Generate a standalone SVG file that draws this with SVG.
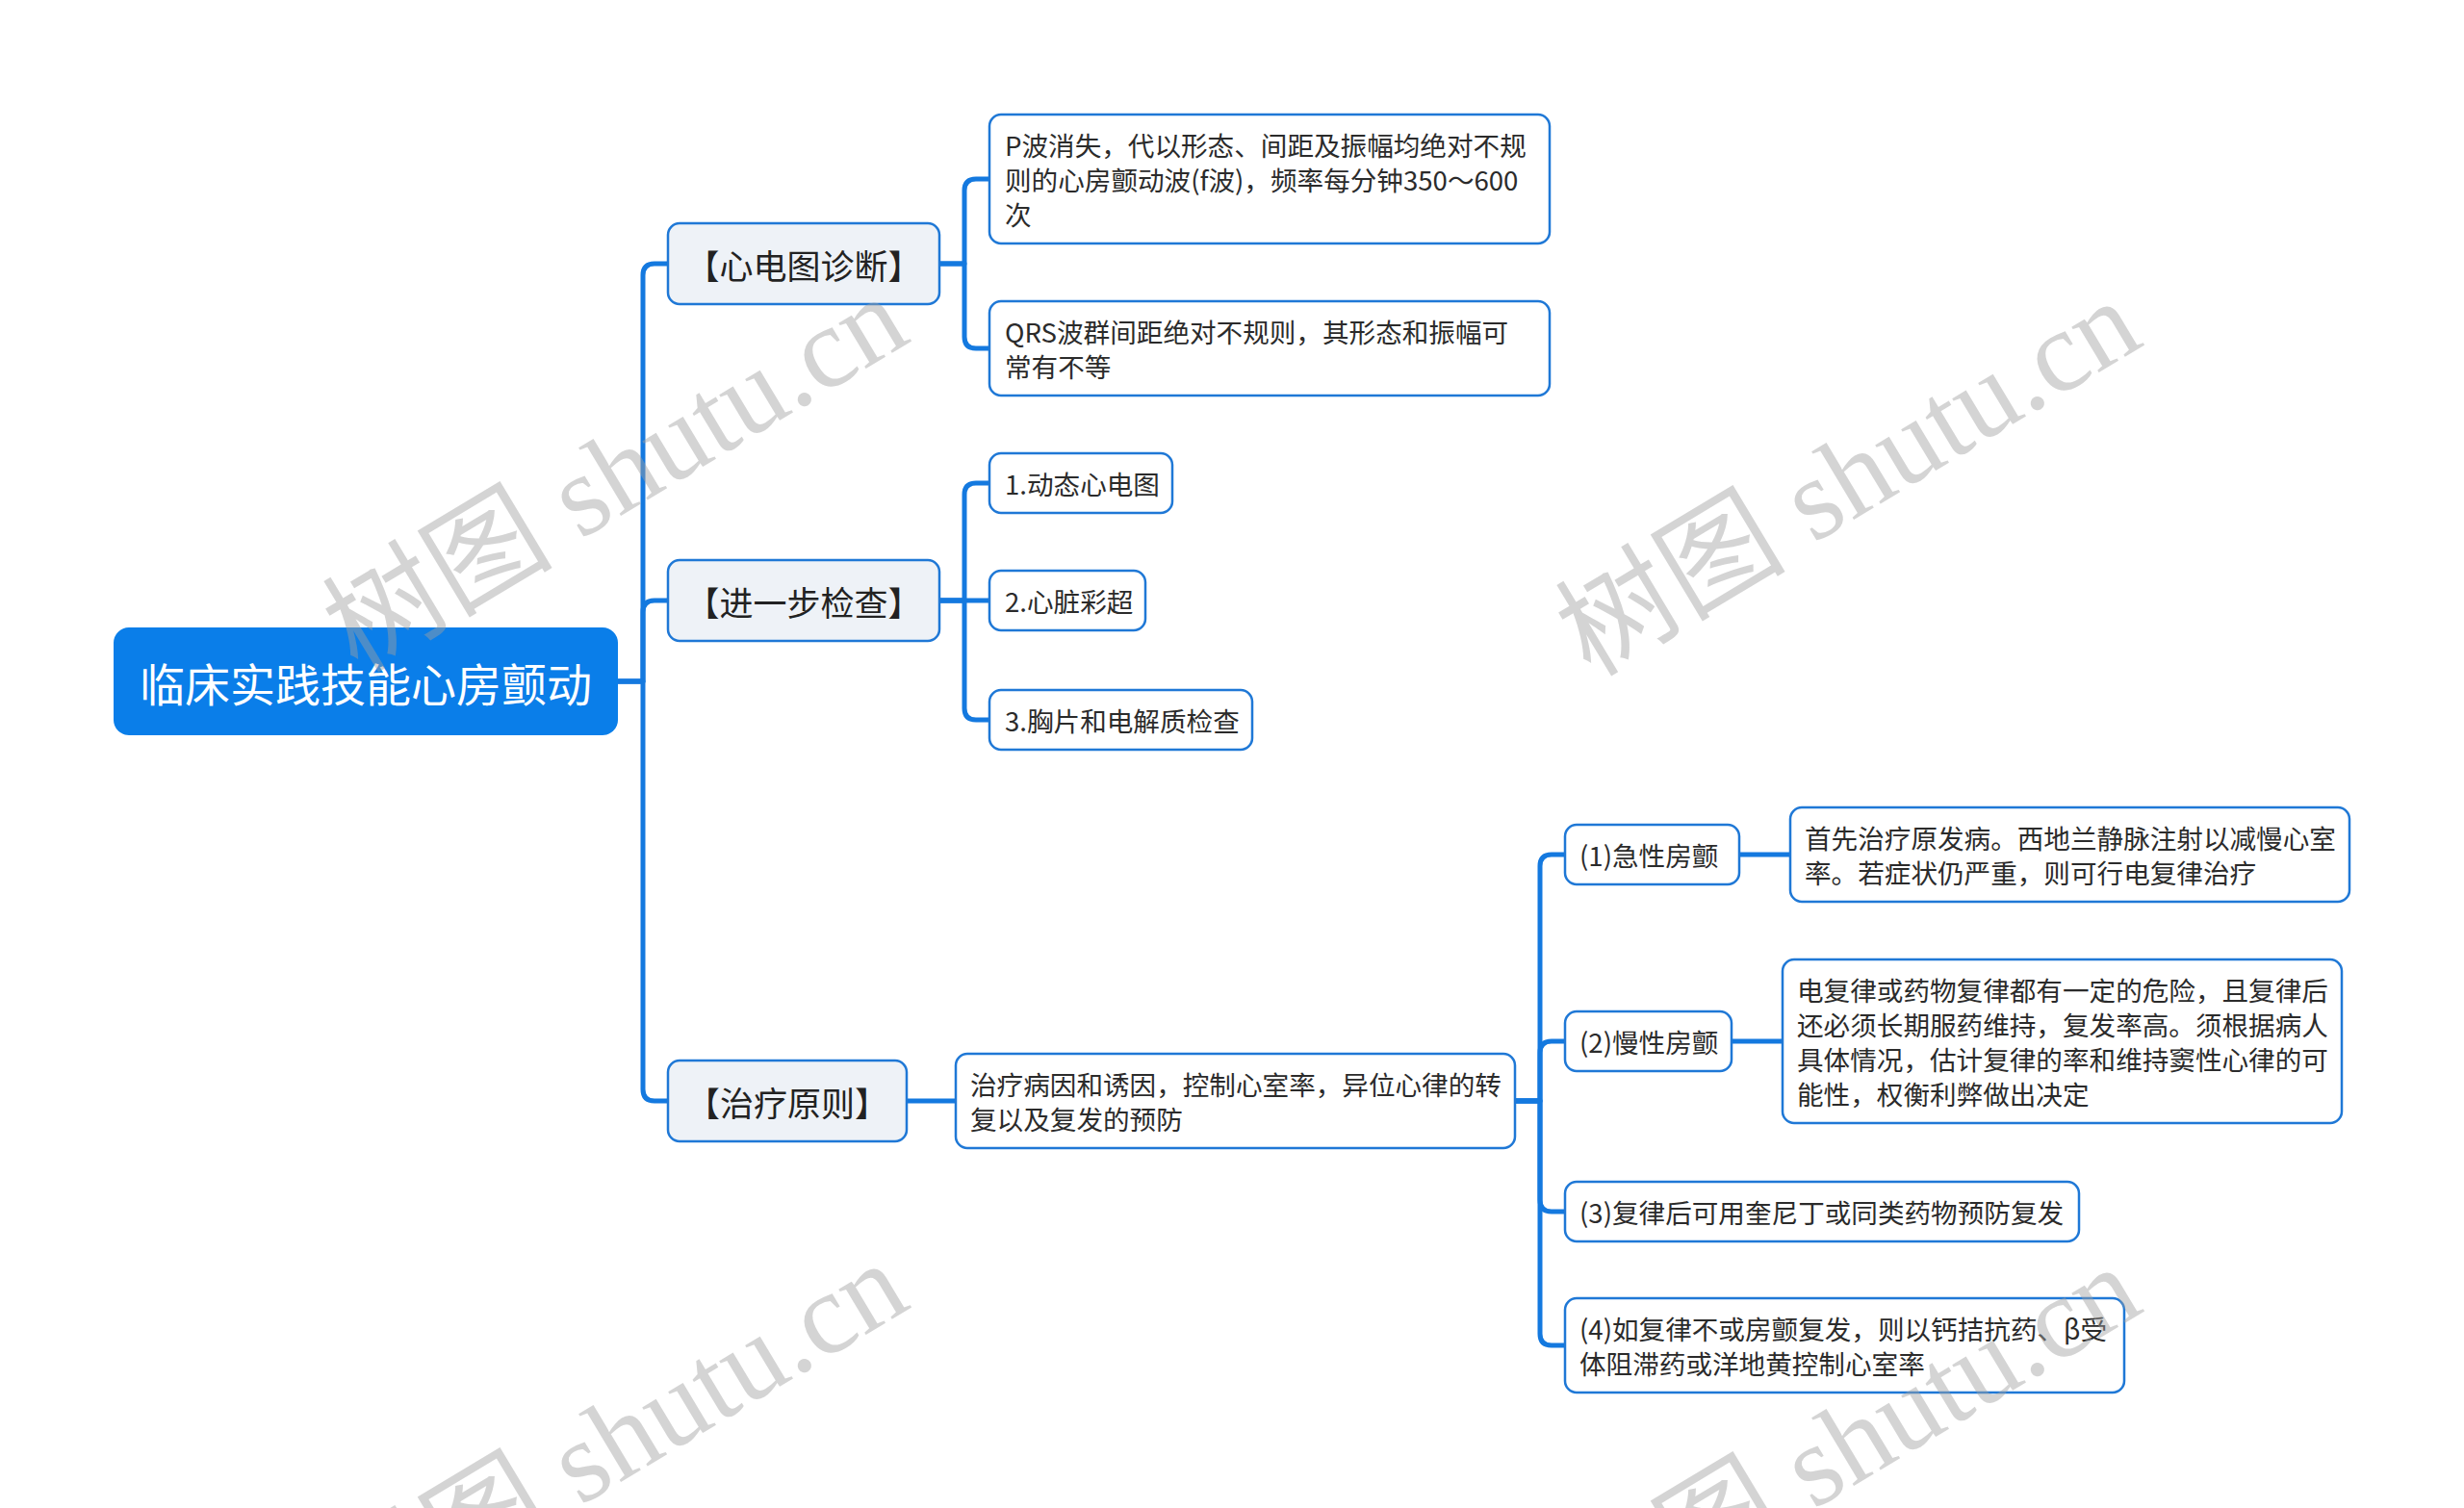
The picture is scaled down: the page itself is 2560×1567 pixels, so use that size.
<svg xmlns="http://www.w3.org/2000/svg" width="2560" height="1567" viewBox="0 0 2560 1567">
<style>
.bg{fill:#ffffff}
.conn{fill:none;stroke:#1479df;stroke-width:5;stroke-linecap:round;stroke-linejoin:round}
.root{fill:#0a7ee9}
.rt{fill:#ffffff;font-family:"Noto Sans CJK SC","Noto Sans",sans-serif;font-size:47px}
.l1{fill:#eef2f7;stroke:#1f78d6;stroke-width:2.5}
.l1t{fill:#222;font-family:"Noto Sans CJK SC","Noto Sans",sans-serif;font-size:35px}
.lf{fill:#ffffff;stroke:#1f78d6;stroke-width:2.5}
.t{fill:#2b2b2b;font-family:"Noto Sans CJK SC","Noto Sans",sans-serif;font-size:27.6px}
.wm{fill:#a0a0a0;fill-opacity:0.45;font-family:"Liberation Serif","Noto Sans CJK SC",serif;font-size:120px}
</style>
<rect class="bg" x="0" y="0" width="2560" height="1567"/>
<g id="connectors">
<path class="conn" d="M642 708 H668 V286 Q668 274 680 274 H694"/>
<path class="conn" d="M642 708 H668 V636 Q668 624 680 624 H694"/>
<path class="conn" d="M642 708 H668 V1132 Q668 1144 680 1144 H694"/>
<path class="conn" d="M976 274 H1002 V198 Q1002 186 1014 186 H1028"/>
<path class="conn" d="M976 274 H1002 V350 Q1002 362 1014 362 H1028"/>
<path class="conn" d="M976 624 H1002 V514 Q1002 502 1014 502 H1028"/>
<path class="conn" d="M976 624 H1028"/>
<path class="conn" d="M976 624 H1002 V736 Q1002 748 1014 748 H1028"/>
<path class="conn" d="M942 1144 H993"/>
<path class="conn" d="M1574 1144 H1600 V900 Q1600 888 1612 888 H1626"/>
<path class="conn" d="M1574 1144 H1600 V1094 Q1600 1082 1612 1082 H1626"/>
<path class="conn" d="M1574 1144 H1600 V1247 Q1600 1259 1612 1259 H1626"/>
<path class="conn" d="M1574 1144 H1600 V1386 Q1600 1398 1612 1398 H1626"/>
<path class="conn" d="M1807 888 H1860"/>
<path class="conn" d="M1799 1082 H1852"/>
</g>
<g id="root">
<rect class="root" x="118" y="652" width="524" height="112" rx="16"/>
<text class="rt" x="380" y="708" text-anchor="middle" dominant-baseline="central">临床实践技能心房颤动</text>
</g>
<g id="n-ecg">
<rect class="l1" x="694" y="232" width="282" height="84" rx="12"/>
<text class="l1t" x="835" y="274" text-anchor="middle" dominant-baseline="central">【心电图诊断】</text>
</g>
<g id="n-exam">
<rect class="l1" x="694" y="582" width="282" height="84" rx="12"/>
<text class="l1t" x="835" y="624" text-anchor="middle" dominant-baseline="central">【进一步检查】</text>
</g>
<g id="n-treat">
<rect class="l1" x="694" y="1102" width="248" height="84" rx="12"/>
<text class="l1t" x="818" y="1144" text-anchor="middle" dominant-baseline="central">【治疗原则】</text>
</g>
<g id="n-p">
<rect class="lf" x="1028" y="119" width="582" height="134" rx="12"/>
<text class="t" dominant-baseline="central"><tspan x="1044" y="150">P波消失，代以形态、间距及振幅均绝对不规</tspan><tspan x="1044" y="186">则的心房颤动波(f波)，频率每分钟350～600</tspan><tspan x="1044" y="222">次</tspan></text>
</g>
<g id="n-qrs">
<rect class="lf" x="1028" y="313" width="582" height="98" rx="12"/>
<text class="t" dominant-baseline="central"><tspan x="1044" y="344">QRS波群间距绝对不规则，其形态和振幅可</tspan><tspan x="1044" y="380">常有不等</tspan></text>
</g>
<g id="n-e1">
<rect class="lf" x="1028" y="471" width="190" height="62" rx="12"/>
<text class="t" x="1044" y="502" dominant-baseline="central">1.动态心电图</text>
</g>
<g id="n-e2">
<rect class="lf" x="1028" y="593" width="162" height="62" rx="12"/>
<text class="t" x="1044" y="624" dominant-baseline="central">2.心脏彩超</text>
</g>
<g id="n-e3">
<rect class="lf" x="1028" y="717" width="273" height="62" rx="12"/>
<text class="t" x="1044" y="748" dominant-baseline="central">3.胸片和电解质检查</text>
</g>
<g id="n-principle">
<rect class="lf" x="993" y="1095" width="581" height="98" rx="12"/>
<text class="t" dominant-baseline="central"><tspan x="1008" y="1126">治疗病因和诱因，控制心室率，异位心律的转</tspan><tspan x="1008" y="1162">复以及复发的预防</tspan></text>
</g>
<g id="n-acute">
<rect class="lf" x="1626" y="857" width="181" height="62" rx="12"/>
<text class="t" x="1641" y="888" dominant-baseline="central">(1)急性房颤</text>
</g>
<g id="n-acute-d">
<rect class="lf" x="1860" y="839" width="581" height="98" rx="12"/>
<text class="t" dominant-baseline="central"><tspan x="1875" y="870">首先治疗原发病。西地兰静脉注射以减慢心室</tspan><tspan x="1875" y="906">率。若症状仍严重，则可行电复律治疗</tspan></text>
</g>
<g id="n-chronic">
<rect class="lf" x="1626" y="1051" width="173" height="62" rx="12"/>
<text class="t" x="1641" y="1082" dominant-baseline="central">(2)慢性房颤</text>
</g>
<g id="n-chronic-d">
<rect class="lf" x="1852" y="997" width="581" height="170" rx="12"/>
<text class="t" dominant-baseline="central"><tspan x="1867" y="1028">电复律或药物复律都有一定的危险，且复律后</tspan><tspan x="1867" y="1064">还必须长期服药维持，复发率高。须根据病人</tspan><tspan x="1867" y="1100">具体情况，估计复律的率和维持窦性心律的可</tspan><tspan x="1867" y="1136">能性，权衡利弊做出决定</tspan></text>
</g>
<g id="n-3">
<rect class="lf" x="1626" y="1228" width="534" height="62" rx="12"/>
<text class="t" x="1641" y="1259" dominant-baseline="central">(3)复律后可用奎尼丁或同类药物预防复发</text>
</g>
<g id="n-4">
<rect class="lf" x="1626" y="1349" width="581" height="98" rx="12"/>
<text class="t" dominant-baseline="central"><tspan x="1641" y="1380">(4)如复律不或房颤复发，则以钙拮抗药、β受</tspan><tspan x="1641" y="1416">体阻滞药或洋地黄控制心室率</tspan></text>
</g>
<g id="watermarks">
<text class="wm" transform="translate(660 527) rotate(-31)" text-anchor="middle">树图 shutu.cn</text>
<text class="wm" transform="translate(1941 531) rotate(-31)" text-anchor="middle">树图 shutu.cn</text>
<text class="wm" transform="translate(660 1531) rotate(-31)" text-anchor="middle">树图 shutu.cn</text>
<text class="wm" transform="translate(1941 1535) rotate(-31)" text-anchor="middle">树图 shutu.cn</text>
</g>
</svg>
